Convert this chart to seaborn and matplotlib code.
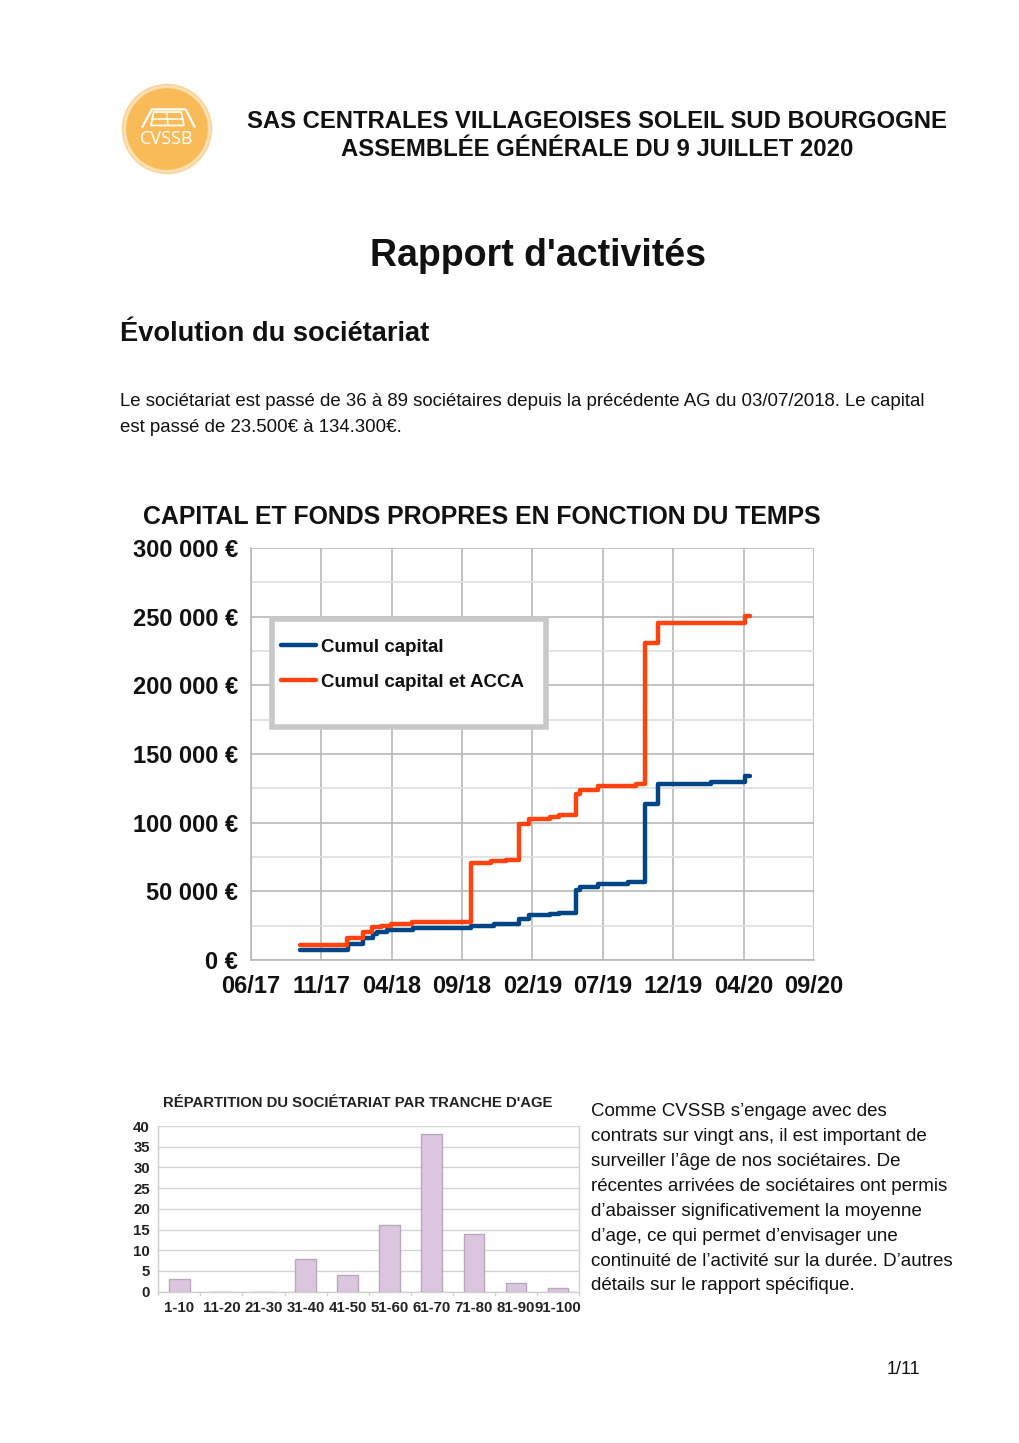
import numpy as np
import pandas as pd
import matplotlib
matplotlib.use("Agg")
import matplotlib.pyplot as plt
import matplotlib.patches as mpatches
from matplotlib import font_manager
import seaborn as sns

# ---------------- data ----------------
capital_dates = ["2017-10-10", "2018-01-18", "2018-02-20", "2018-03-12", "2018-03-20",
                 "2018-04-10", "2018-06-05", "2018-10-03", "2018-11-21", "2019-01-12",
                 "2019-02-04", "2019-03-20", "2019-04-06", "2019-05-12", "2019-05-22",
                 "2019-06-29", "2019-08-29", "2019-10-04", "2019-11-02", "2020-02-20",
                 "2020-05-02", "2020-05-12"]
capital_values = [7000, 11900, 16300, 19200, 20400, 21700, 23100, 24600, 26000, 29700,
                  32600, 33800, 34500, 50900, 53300, 55700, 57000, 113700, 128500, 129400,
                  134300, 134300]

acca_dates = ["2017-10-10", "2018-01-16", "2018-02-18", "2018-03-10", "2018-03-28",
              "2018-04-18", "2018-06-03", "2018-10-03", "2018-11-15", "2018-12-17",
              "2019-01-12", "2019-02-04", "2019-03-20", "2019-04-06", "2019-05-12",
              "2019-05-22", "2019-06-29", "2019-09-16", "2019-10-04", "2019-11-02",
              "2020-05-02", "2020-05-12"]
acca_values = [11000, 15800, 20700, 24100, 25000, 26000, 28000, 70300, 71800, 72800,
               99000, 102500, 104300, 105700, 121000, 124000, 127000, 127800, 230500,
               245200, 250400, 250400]

time_tick_labels = ["06/17", "11/17", "04/18", "09/18", "02/19", "07/19", "12/19", "04/20", "09/20"]
tick_start = "2017-06-28"
tick_step_days = 148

age_classes = ["1-10", "11-20", "21-30", "31-40", "41-50", "51-60", "61-70", "71-80", "81-90", "91-100"]
age_counts = [3, 0, 0, 8, 4, 16, 38, 14, 2, 1]

series_names = ["Cumul capital", "Cumul capital et ACCA"]

# ---------------- fonts ----------------
sns.set_theme(style="white")
installed = {f.name for f in font_manager.fontManager.ttflist}
base_font = "Liberation Sans" if "Liberation Sans" in installed else "DejaVu Sans"
narrow_font = "Liberation Sans Narrow" if "Liberation Sans Narrow" in installed else base_font
plt.rcParams["font.family"] = [base_font, "DejaVu Sans"]

W, H = 1020, 1443
fig = plt.figure(figsize=(W / 100, H / 100), dpi=100)
fig.patch.set_facecolor("white")

def fx(px):
    return px / W

def fy(py):
    return 1 - py / H

# ---------------- logo ----------------
lax = fig.add_axes([fx(118), fy(178), fx(98), 98 / H])
lax.set_xlim(-1.1, 1.1)
lax.set_ylim(-1.1, 1.1)
lax.set_aspect("equal")
lax.axis("off")
logo_col = "#f9bb57"
lax.add_patch(mpatches.Circle((0, 0), 1.0, color=logo_col, alpha=0.5))
lax.add_patch(mpatches.Circle((0, 0), 0.9, color=logo_col))
lax.add_patch(mpatches.Circle((0, 0), 0.96, fill=False, ec="#fde3b8", lw=1.0))
# roof icon
roof = np.array([[-0.55, 0.05], [-0.34, 0.44], [0.42, 0.44], [0.62, 0.05]])
lax.plot(roof[:, 0], roof[:, 1], color="white", lw=1.6)
lax.plot([-0.36, 0.38, 0.32, -0.30, -0.36], [0.08, 0.08, 0.38, 0.38, 0.08], color="white", lw=1.2)
lax.plot([-0.33, 0.35], [0.23, 0.23], color="white", lw=1.1)
lax.plot([0.02, 0.0], [0.08, 0.38], color="white", lw=1.1)
lax.text(0, -0.22, "CVSSB", ha="center", va="center", color="white", fontsize=13,
         family=["Open Sans", "DejaVu Sans"])

# ---------------- header texts ----------------
fig.text(fx(597), fy(121), "SAS CENTRALES VILLAGEOISES SOLEIL SUD BOURGOGNE",
         ha="center", va="center", fontsize=17.2, fontweight="bold", color="#111111")
fig.text(fx(597), fy(149), "ASSEMBLÉE GÉNÉRALE DU 9 JUILLET 2020",
         ha="center", va="center", fontsize=17.2, fontweight="bold", color="#111111")
fig.text(fx(538), fy(256), "Rapport d'activités", ha="center", va="center",
         fontsize=27, fontweight="bold", color="#111111")
fig.text(fx(120), fy(334), "Évolution du sociétariat", ha="left", va="center",
         fontsize=19.6, fontweight="bold", color="#111111")
fig.text(fx(120), fy(402),
         "Le sociétariat est passé de 36 à 89 sociétaires depuis la précédente AG du 03/07/2018. Le capital",
         ha="left", va="center", fontsize=13.45, color="#111111")
fig.text(fx(120), fy(427), "est passé de 23.500€ à 134.300€.",
         ha="left", va="center", fontsize=13.45, color="#111111")

# ---------------- line chart ----------------
ax = fig.add_axes([fx(250.7), fy(960), fx(814 - 250.7), (960 - 548) / H])
df = pd.concat([
    pd.DataFrame({"date": pd.to_datetime(capital_dates), "valeur": capital_values, "serie": series_names[0]}),
    pd.DataFrame({"date": pd.to_datetime(acca_dates), "valeur": acca_values, "serie": series_names[1]}),
])
palette = {series_names[0]: "#004586", series_names[1]: "#ff420e"}
sns.lineplot(data=df, x="date", y="valeur", hue="serie", palette=palette, ax=ax,
             drawstyle="steps-post", linewidth=3.2, legend=True, zorder=3)

tick_dates = [pd.Timestamp(tick_start) + pd.Timedelta(days=tick_step_days * k) for k in range(len(time_tick_labels))]
ax.set_xlim(tick_dates[0], tick_dates[-1])
ax.set_xticks(tick_dates)
ax.set_xticklabels(time_tick_labels, fontsize=17, fontweight="bold", family=[narrow_font, "DejaVu Sans"])
ax.set_ylim(0, 300000)
ax.set_yticks(np.arange(0, 300001, 50000))
ax.set_yticks(np.arange(25000, 300000, 50000), minor=True)
ax.set_yticklabels([(f"{int(v):,}".replace(",", " ") + " €") if v else "0 €" for v in np.arange(0, 300001, 50000)],
                   fontsize=17, fontweight="bold")
ax.set_xlabel("")
ax.set_ylabel("")
ax.grid(True, which="major", color="#b8b8b8", lw=1.2)
ax.grid(True, which="minor", axis="y", color="#dedede", lw=1.2)
ax.set_axisbelow(True)
for s in ["top", "right"]:
    ax.spines[s].set_visible(False)
for s in ["left", "bottom"]:
    ax.spines[s].set_color("#b8b8b8")
    ax.spines[s].set_linewidth(1.2)
ax.tick_params(axis="both", which="major", direction="out", length=6, width=1.2, color="#b8b8b8",
               colors="#111111", pad=3)
ax.tick_params(axis="y", which="minor", length=0)
ax.tick_params(axis="x", pad=5)
ax.set_title("CAPITAL ET FONDS PROPRES EN FONCTION DU TEMPS", fontsize=17.9, fontweight="bold",
             color="#111111", pad=17, x=0.41)

# legend box
ax.add_patch(mpatches.Rectangle((0.0378, 0.5655), 0.524 - 0.0378, 0.8277 - 0.5655,
                                transform=ax.transAxes, fill=True, fc="white", ec="#c8c8c8",
                                lw=4, zorder=4))
handles, labels = ax.get_legend_handles_labels()
leg = ax.legend(handles, labels, loc="upper left", bbox_to_anchor=(0.041, 0.798), frameon=False,
                prop={"size": 13.5, "weight": "bold"}, handlelength=1.85, handletextpad=0.25,
                labelspacing=0.96, borderaxespad=0)
leg.set_zorder(5)
for t in leg.get_texts():
    t.set_color("#111111")

# ---------------- bar chart ----------------
bx = fig.add_axes([fx(158.3), fy(1291.7), fx(579 - 158.3), (1291.7 - 1126) / H])
bdf = pd.DataFrame({"age": age_classes, "n": age_counts})
sns.barplot(data=bdf, x="age", y="n", color="#dcc6df", edgecolor="#b8a8bb", linewidth=1.0,
            width=0.49, ax=bx, saturation=1, zorder=3)
bx.set_ylim(0, 40)
bx.set_yticks(np.arange(0, 41, 5))
bx.set_xlim(-0.5, len(age_classes) - 0.5)
bx.set_xlabel("")
bx.set_ylabel("")
bx.set_yticklabels([str(v) for v in range(0, 41, 5)], fontsize=10.8, fontweight="bold")
bx.set_xticks(range(len(age_classes)))
bx.set_xticklabels(age_classes, fontsize=10.8, fontweight="bold")
bx.grid(True, axis="y", color="#d4d4d4", lw=1.0)
bx.set_axisbelow(True)
for s in ["top"]:
    bx.spines[s].set_visible(False)
for s in ["left", "bottom", "right"]:
    bx.spines[s].set_color("#d0d0d0")
    bx.spines[s].set_linewidth(1.0)
bx.tick_params(axis="y", length=4, color="#d0d0d0", colors="#222222", pad=2)
bx.tick_params(axis="x", length=0, colors="#222222", pad=7)
for k in range(len(age_classes) + 1):
    bx.plot([k - 0.5, k - 0.5], [0, -0.9], color="#d0d0d0", lw=1.0, clip_on=False)
bx.set_title("RÉPARTITION DU SOCIÉTARIAT PAR TRANCHE D'AGE", fontsize=10.75, fontweight="bold",
             color="#222222", pad=14, x=0.475)

# ---------------- right paragraph ----------------
para = ["Comme CVSSB s’engage avec des",
        "contrats sur vingt ans, il est important de",
        "surveiller l’âge de nos sociétaires. De",
        "récentes arrivées de sociétaires ont permis",
        "d’abaisser significativement la moyenne",
        "d’age, ce qui permet d’envisager une",
        "continuité de l’activité sur la durée. D’autres",
        "détails sur le rapport spécifique."]
for i, line in enumerate(para):
    fig.text(fx(591), fy(1112 + i * 24.85), line, ha="left", va="center", fontsize=13.5, color="#111111")

fig.text(fx(903), fy(1369), "1/11", ha="center", va="center", fontsize=13, color="#111111")

fig.savefig("out.png", dpi=100, facecolor="white")
